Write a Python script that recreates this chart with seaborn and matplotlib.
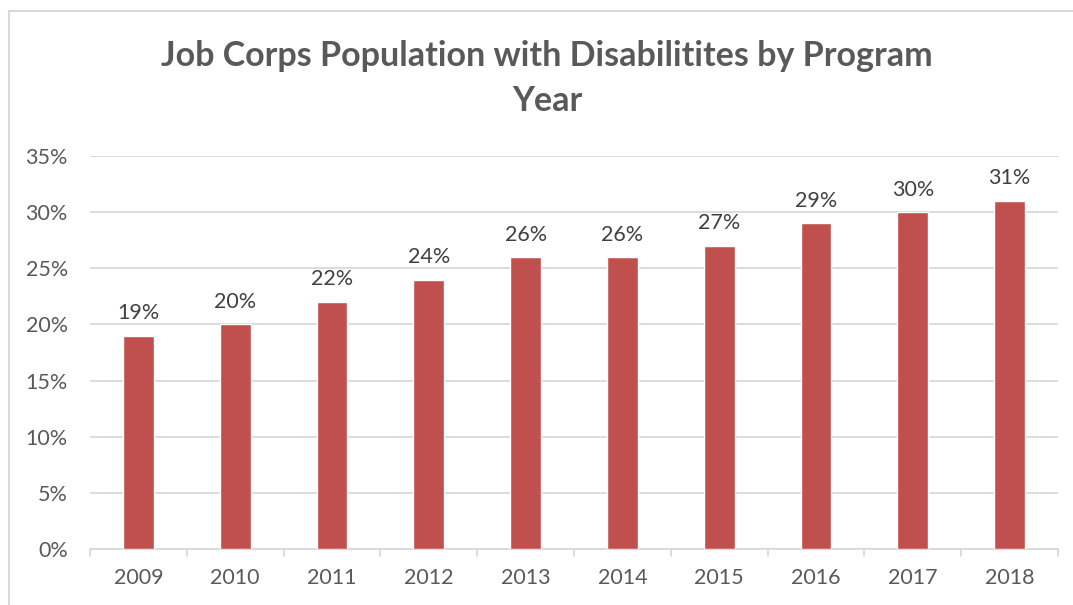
import matplotlib
matplotlib.use("Agg")
import matplotlib.pyplot as plt
import seaborn as sns
import pandas as pd
from matplotlib.lines import Line2D

years = ["2009", "2010", "2011", "2012", "2013", "2014", "2015", "2016", "2017", "2018"]
values = [19, 20, 22, 24, 26, 26, 27, 29, 30, 31]
yticks = [0, 5, 10, 15, 20, 25, 30, 35]

df = pd.DataFrame({"year": years, "pct": values})

sns.set_theme(style="white")
plt.rcParams["font.family"] = ["Lato", "DejaVu Sans"]

W, H = 1073, 605
fig = plt.figure(figsize=(W / 100, H / 100), dpi=100)
ax = fig.add_axes([90 / W, 1 - 549 / H, (1058 - 90) / W, (549 - 156) / H])

sns.barplot(data=df, x="year", y="pct", color="#C0504D", width=0.32,
            saturation=1, ax=ax, zorder=3)

ax.set_ylim(0, 35)
ax.set_xlim(-0.5, len(years) - 0.5)
ax.set_yticks(yticks)
ax.set_yticklabels([f"{v}%" for v in yticks])
ax.yaxis.grid(True, color="#D9D9D9", linewidth=1.3, zorder=0)
ax.set_xlabel("")
ax.set_ylabel("")
for s in ["top", "right", "left"]:
    ax.spines[s].set_visible(False)
ax.spines["bottom"].set_color("#D9D9D9")
ax.spines["bottom"].set_linewidth(1.3)
ax.tick_params(axis="y", length=0, pad=16, labelsize=15.5, labelcolor="#595959")
ax.tick_params(axis="x", length=0, pad=14, labelsize=15.5, labelcolor="#595959")

# category boundary tick marks (about 7 px below the axis)
tick_len = 7 * 35 / 393
for i in range(len(years) + 1):
    ax.plot([i - 0.5, i - 0.5], [0, -tick_len], color="#D9D9D9",
            lw=1.3, clip_on=False)

for i, v in enumerate(values):
    ax.annotate(f"{v}%", (i, v), xytext=(0, 9), textcoords="offset points",
                ha="center", va="bottom", fontsize=15.5, color="#404040")

fig.text(547 / W, 1 - 56 / H, "Job Corps Population with Disabilitites by Program",
         ha="center", va="center", fontsize=24.5, fontweight="bold", color="#595959")
fig.text(547 / W, 1 - 101 / H, "Year",
         ha="center", va="center", fontsize=24.5, fontweight="bold", color="#595959")

# outer chart border (top and left visible)
fig.add_artist(Line2D([8.5 / W, 8.5 / W], [0, 1 - 11 / H], transform=fig.transFigure,
                      color="#D9D9D9", lw=1.5))
fig.add_artist(Line2D([8.5 / W, 1], [1 - 11 / H, 1 - 11 / H], transform=fig.transFigure,
                      color="#D9D9D9", lw=1.5))

fig.savefig("out.png", dpi=100, facecolor="white")
